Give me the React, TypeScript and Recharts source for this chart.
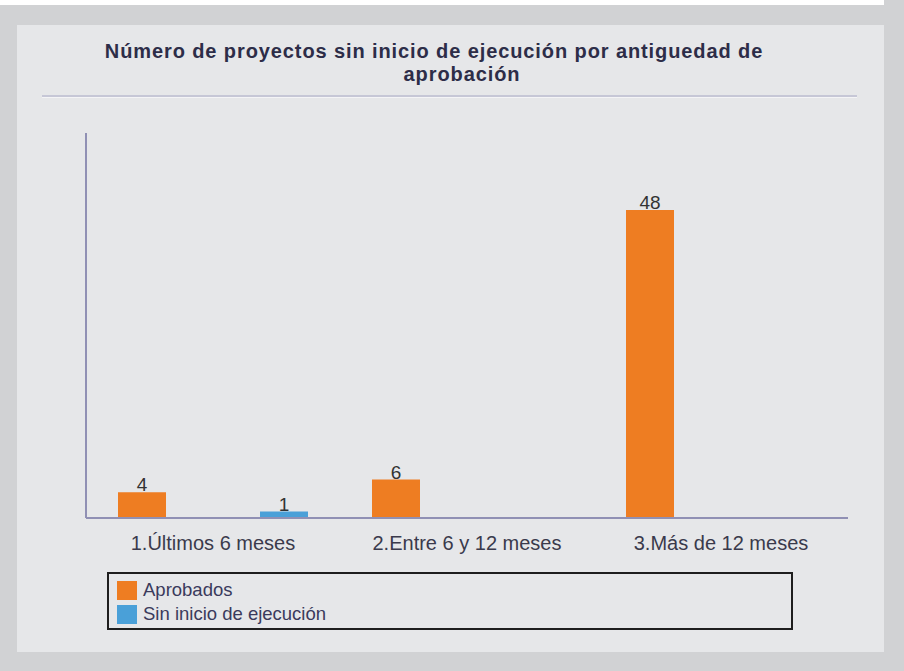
import React from 'react';
import { BarChart, Bar, XAxis, YAxis, LabelList } from 'recharts';

const categories = ['1.Últimos 6 meses', '2.Entre 6 y 12 meses', '3.Más de 12 meses'];
const aprobados = [4, 6, 48];
const sinInicio: (number | null)[] = [1, null, null];

const series = [
  { key: 'aprobados', name: 'Aprobados', color: '#EE7D22', values: aprobados },
  { key: 'sinInicio', name: 'Sin inicio de ejecución', color: '#4AA0D8', values: sinInicio },
];

const data = categories.map((name, i) => ({
  name,
  aprobados: aprobados[i],
  sinInicio: sinInicio[i],
}));

const font = '"Liberation Sans", Arial, sans-serif';
const axisColor = '#9090b4';

const App: React.FC = () => (
  <div style={{ position: 'absolute', left: 0, top: 0, width: 904, height: 671, background: '#fff', fontFamily: font }}>
    <div style={{ position: 'absolute', left: 0, top: 5, width: 904, height: 666, background: '#d1d2d4' }} />
    <div style={{ position: 'absolute', left: 884, top: 0, width: 20, height: 5, background: '#d1d2d4' }} />
    <div style={{ position: 'absolute', left: 17, top: 25, width: 867, height: 627, background: '#e6e7e9' }} />

    <div style={{ position: 'absolute', left: 0, width: 868, top: 40, textAlign: 'center', fontWeight: 'bold', fontSize: 20, letterSpacing: 0.9, color: '#2d2d48', lineHeight: '23px', whiteSpace: 'nowrap' }}>
      Número de proyectos sin inicio de ejecución por antiguedad de
      <br />
      <span style={{ paddingLeft: 56 }}>aprobación</span>
    </div>
    <div style={{ position: 'absolute', left: 42, top: 95, width: 815, height: 2, background: '#c6c7d6' }} />
    <div style={{ position: 'absolute', left: 42, top: 97, width: 815, height: 1, background: '#f4f4f6' }} />

    <div style={{ position: 'absolute', left: 0, top: 0 }}>
      <BarChart
        width={904}
        height={671}
        data={data}
        margin={{ top: 133, left: 85, right: 56, bottom: 123 }}
        barSize={48}
        barGap={94}
      >
        <XAxis
          dataKey="name"
          height={30}
          axisLine={{ stroke: axisColor, strokeWidth: 2 }}
          tickLine={false}
          tickMargin={12}
          tick={{ fontSize: 20, fill: '#3a3a4c', fontFamily: font }}
        />
        <YAxis
          width={1}
          domain={[0, 60]}
          tick={false}
          tickLine={false}
          axisLine={{ stroke: axisColor, strokeWidth: 2 }}
        />
        {series.map((s) => (
          <Bar key={s.key} dataKey={s.key} name={s.name} fill={s.color} isAnimationActive={false}>
            <LabelList dataKey={s.key} position="top" offset={1} style={{ fontSize: 19, fill: '#333', fontFamily: font }} />
          </Bar>
        ))}
      </BarChart>
    </div>

    <div style={{ position: 'absolute', left: 107, top: 572, width: 682, height: 54, border: '2px solid #1e1e1e', boxSizing: 'content-box' }}>
      {series.map((s, i) => (
        <div key={s.key} style={{ position: 'absolute', left: 8, top: 6 + i * 24, display: 'flex', alignItems: 'center', height: 20 }}>
          <div style={{ width: 20, height: 19, background: s.color, marginRight: 6 }} />
          <span style={{ fontSize: 18.5, color: '#3a3a5c' }}>{s.name}</span>
        </div>
      ))}
    </div>
  </div>
);

export default App;
